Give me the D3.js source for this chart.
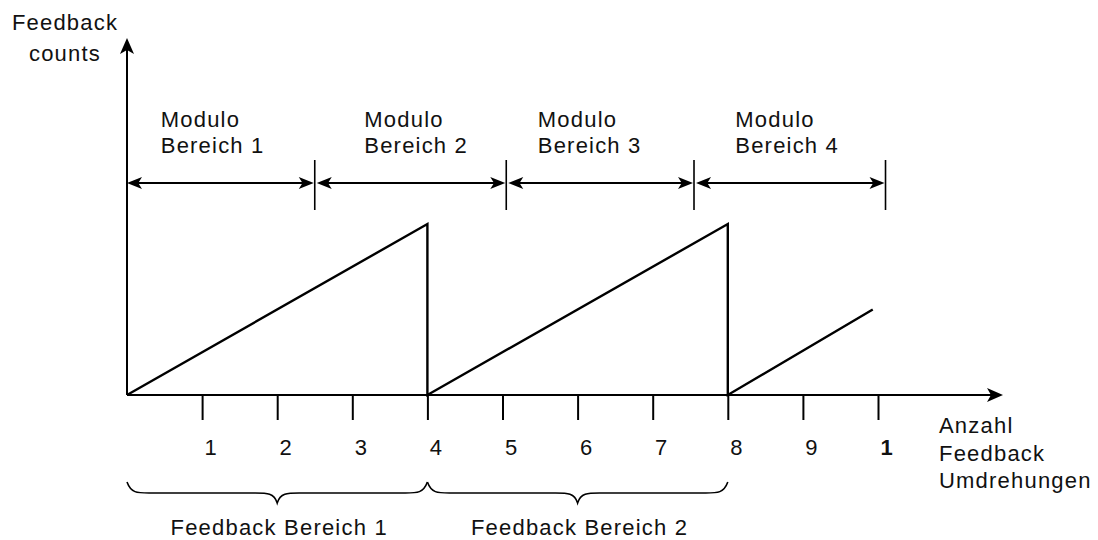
<!DOCTYPE html>
<html>
<head>
<meta charset="utf-8">
<script src="https://cdn.jsdelivr.net/npm/d3@7"></script>
<style>
  html, body { margin: 0; padding: 0; background: #fff; }
  svg { display: block; }
  text { font-family: "Liberation Sans", Arial, sans-serif; fill: #111; }
</style>
</head>
<body>
<svg id="chart" width="1098" height="540"></svg>
<script>
// ---- data ----
const xTicks = [1, 2, 3, 4, 5, 6, 7, 8, 9, 10];
const xTickLabels = ["1", "2", "3", "4", "5", "6", "7", "8", "9", "1"];
const sawX = [0, 4, 4, 8, 8, 9.93];
const sawY = [0, 4, 0, 4, 0, 2.0];
const moduloBounds = [0, 2.5, 5.05, 7.55, 10.1];
const moduloLabels = [["Modulo", "Bereich 1"], ["Modulo", "Bereich 2"], ["Modulo", "Bereich 3"], ["Modulo", "Bereich 4"]];
const moduloLabelX = [0.45, 3.16, 5.47, 8.1];
const feedbackRanges = [[0, 4], [4, 8]];
const feedbackLabels = ["Feedback Bereich 1", "Feedback Bereich 2"];
const yAxisLabel = ["Feedback", "counts"];
const xAxisLabel = ["Anzahl", "Feedback", "Umdrehungen"];

// ---- layout ----
const svg = d3.select("#chart");
const x = d3.scaleLinear().domain([0, 10]).range([127, 878]);
const y = d3.scaleLinear().domain([0, 4]).range([395, 224]);
const x0 = x(0), y0 = y(0);
const xAxisEnd = 1003, yAxisTop = 38;
const FS = "22px", LS = "1.2px";

function arrowHead(g, tx, ty, angle, len, half) {
  g.append("path")
    .attr("d", `M0,0 L${-len},${-half} L${-len * 0.75},0 L${-len},${half} Z`)
    .attr("transform", `translate(${tx},${ty}) rotate(${angle})`)
    .attr("fill", "#000");
}

// y axis
svg.append("line").attr("x1", x0).attr("x2", x0).attr("y1", y0).attr("y2", yAxisTop + 6)
  .attr("stroke", "#000").attr("stroke-width", 2);
arrowHead(svg, x0, yAxisTop, -90, 16, 7);

// x axis
svg.append("line").attr("x1", x0).attr("x2", xAxisEnd - 6).attr("y1", y0).attr("y2", y0)
  .attr("stroke", "#000").attr("stroke-width", 2);
arrowHead(svg, xAxisEnd, y0, 0, 16, 7);

const axis = d3.axisBottom(x).tickValues(xTicks).tickSize(25)
  .tickFormat((d, i) => xTickLabels[i]);
const gx = svg.append("g").attr("transform", `translate(0,${y0})`).call(axis);
gx.select(".domain").remove();
gx.selectAll(".tick line").attr("stroke", "#000").attr("stroke-width", 2);
gx.selectAll(".tick text")
  .attr("y", 60).attr("dy", 0).attr("dx", 8)
  .style("font-size", FS).style("fill", "#111")
  .style("font-family", "\"Liberation Sans\", Arial, sans-serif")
  .style("font-weight", (d, i) => i === xTicks.length - 1 ? "bold" : "normal");

// sawtooth
const line = d3.line().x(d => x(d[0])).y(d => y(d[1]));
svg.append("path")
  .datum(sawX.map((v, i) => [v, sawY[i]]))
  .attr("d", line)
  .attr("fill", "none").attr("stroke", "#000").attr("stroke-width", 2.4)
  .attr("stroke-linejoin", "miter");

// modulo ranges
const modY = 183;
moduloBounds.slice(1).forEach(b => {
  svg.append("line").attr("x1", x(b)).attr("x2", x(b)).attr("y1", modY - 23).attr("y2", modY + 27)
    .attr("stroke", "#000").attr("stroke-width", 1.6);
});
for (let i = 0; i < moduloBounds.length - 1; i++) {
  const a = x(moduloBounds[i]) + (i === 0 ? 0 : 2);
  const b = x(moduloBounds[i + 1]) - 1;
  svg.append("line").attr("x1", a + 10).attr("x2", b - 10).attr("y1", modY).attr("y2", modY)
    .attr("stroke", "#000").attr("stroke-width", 1.8);
  arrowHead(svg, a, modY, 180, 15, 6);
  arrowHead(svg, b, modY, 0, 15, 6);
  const t = svg.append("text").attr("x", x(moduloLabelX[i])).attr("y", 127)
    .style("font-size", FS).style("letter-spacing", LS);
  t.append("tspan").attr("x", x(moduloLabelX[i])).attr("y", 127).text(moduloLabels[i][0]);
  t.append("tspan").attr("x", x(moduloLabelX[i])).attr("y", 153).text(moduloLabels[i][1]);
}

// axis labels
const yl = svg.append("text").attr("text-anchor", "middle").style("font-size", FS).style("letter-spacing", LS);
yAxisLabel.forEach((s, i) => yl.append("tspan").attr("x", 65).attr("y", 30 + i * 31).text(s));
const xl = svg.append("text").style("font-size", FS).style("letter-spacing", LS);
xAxisLabel.forEach((s, i) => xl.append("tspan").attr("x", 939).attr("y", 433 + i * 27.5).text(s));

// braces
function brace(xa, xb, top, mid, tip) {
  const m = (xa + xb) / 2;
  return `M${xa},${top} C${xa + 4},${mid} ${xa + 10},${mid} ${xa + 22},${mid}` +
    ` L${m - 22},${mid} C${m - 10},${mid} ${m - 3},${mid} ${m},${tip}` +
    ` C${m + 3},${mid} ${m + 10},${mid} ${m + 22},${mid}` +
    ` L${xb - 22},${mid} C${xb - 10},${mid} ${xb - 4},${mid} ${xb},${top}`;
}
feedbackRanges.forEach((r, i) => {
  svg.append("path").attr("d", brace(x(r[0]), x(r[1]), 482, 493, 503))
    .attr("fill", "none").attr("stroke", "#000").attr("stroke-width", 1.6);
  svg.append("text").attr("x", (x(r[0]) + x(r[1])) / 2 + 2).attr("y", 535)
    .attr("text-anchor", "middle").style("font-size", FS).style("letter-spacing", LS)
    .text(feedbackLabels[i]);
});
</script>
</body>
</html>
